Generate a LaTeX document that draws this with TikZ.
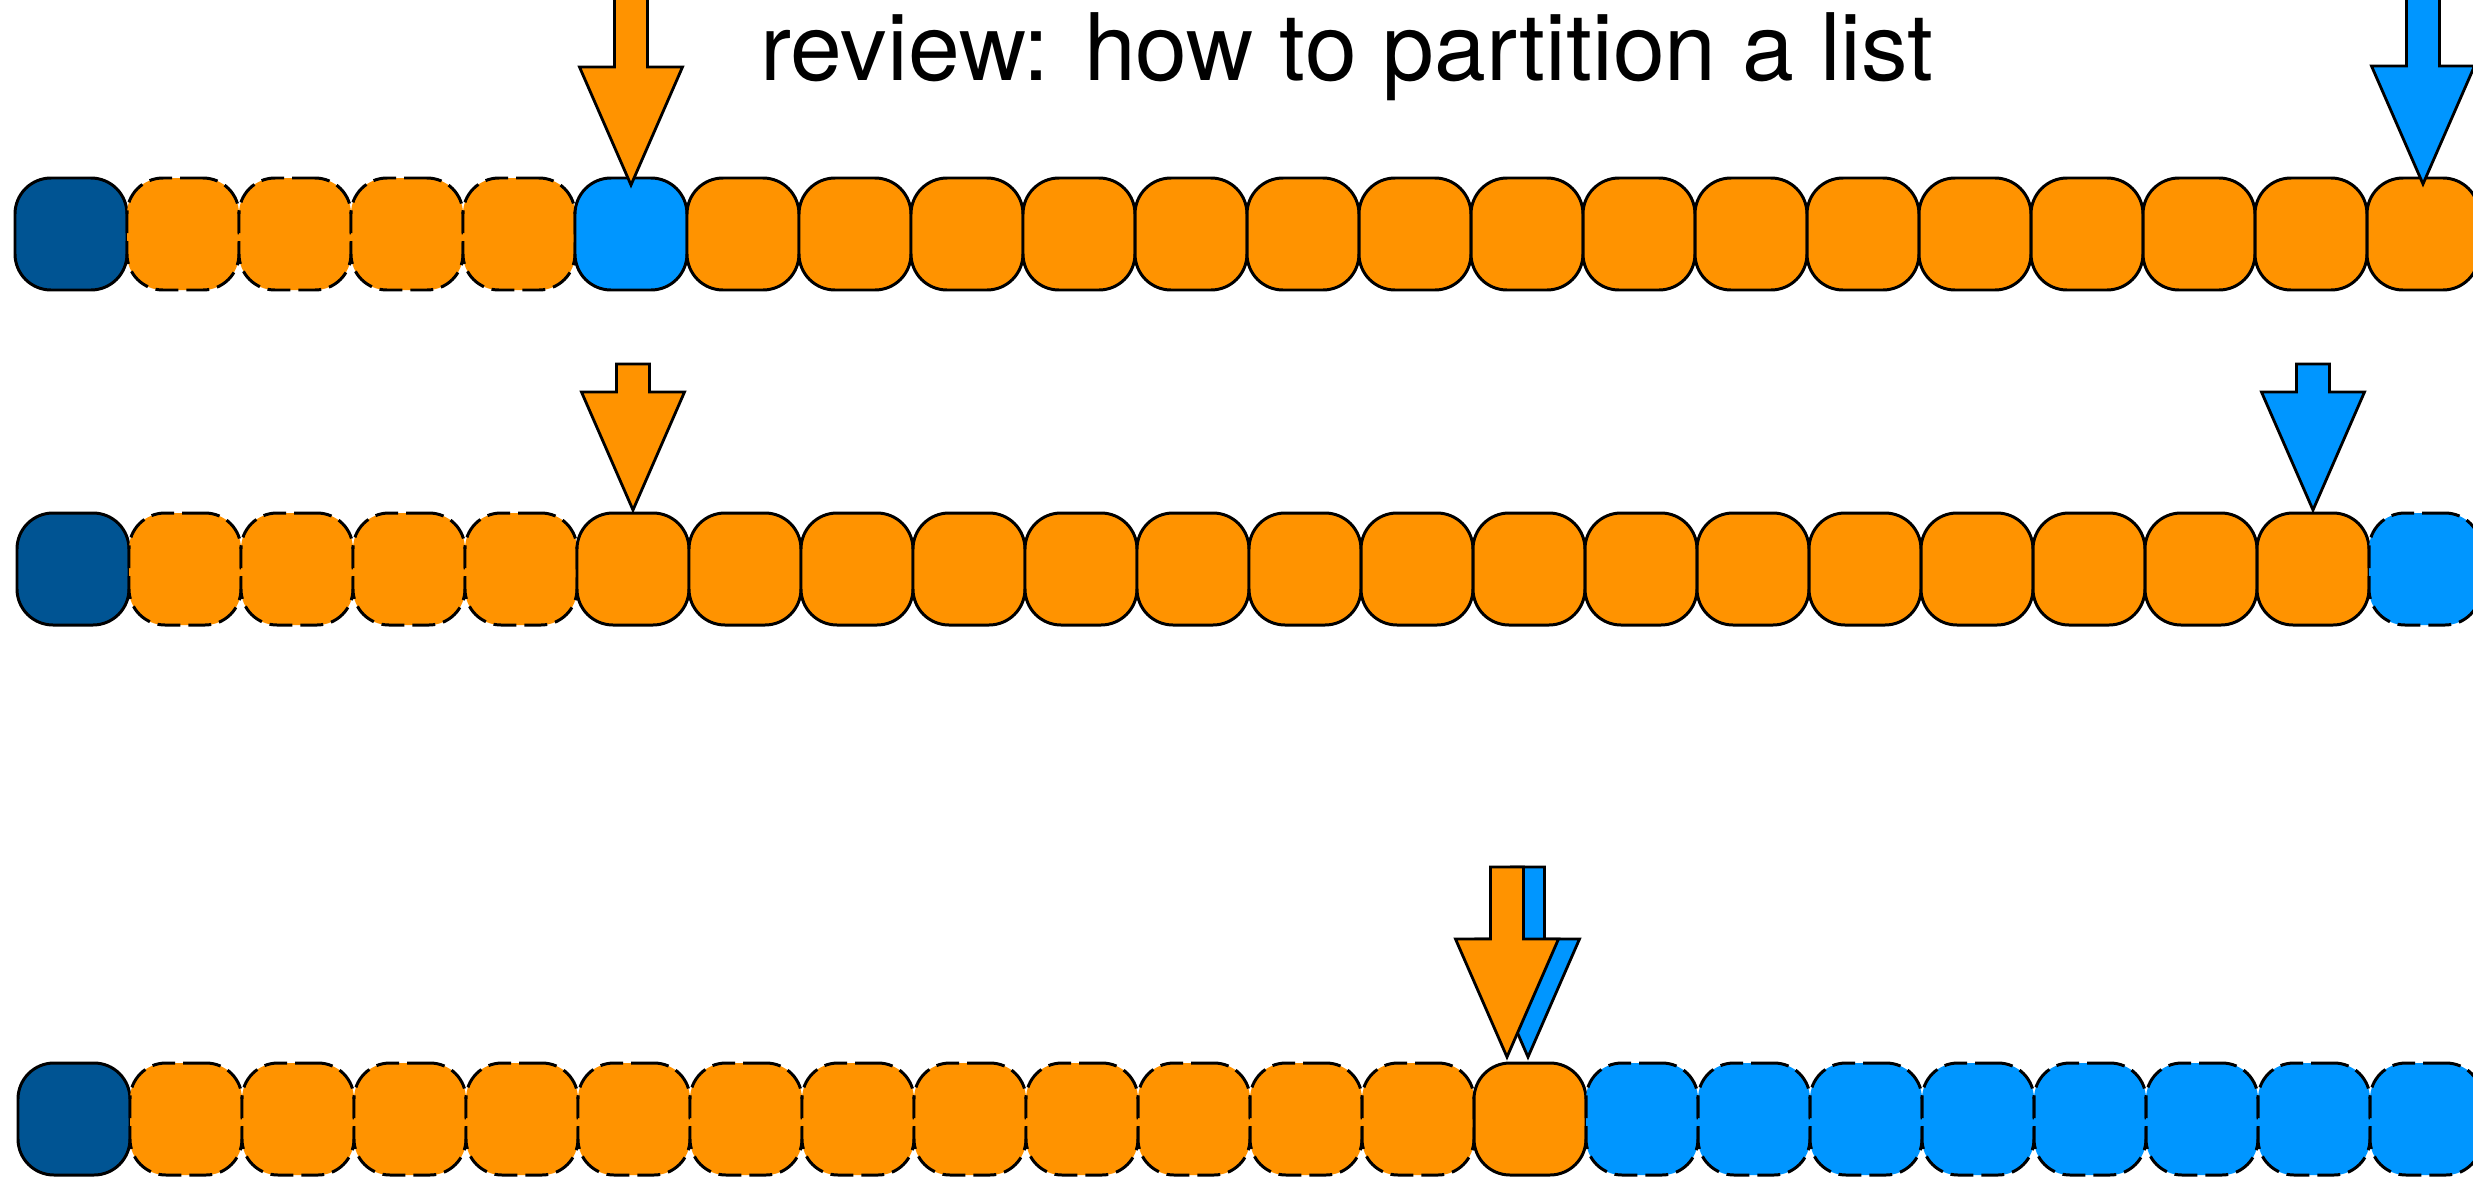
\documentclass[tikz,border=0pt]{standalone}
\usepackage{fontspec}
\setmainfont{TeX Gyre Heros}
\usepackage{tikz}
\usetikzlibrary{calc}
\definecolor{ocean}{HTML}{005493}
\definecolor{tangerine}{HTML}{FF9300}
\definecolor{aqua}{HTML}{0096FF}
\tikzset{
  cell/.style={draw=black, line width=0.85pt, rounded corners=0.36cm,
               minimum width=1.12cm, minimum height=1.12cm,
               inner sep=0pt, outer sep=0pt},
  headcell/.style={cell, fill=ocean},
  lowcell/.style={cell, fill=tangerine, dash pattern=on 6.5pt off 2.3pt},
  midcell/.style={cell, fill=tangerine},
  highcell/.style={cell, fill=aqua, dash pattern=on 6.5pt off 2.3pt},
  pivotcell/.style={cell, fill=aqua},
  ptr/.style={draw=black, line width=0.8pt, line join=miter},
  title/.style={font=\fontsize{26.5}{30}\selectfont, anchor=base}
}
% block arrow: colour, tip, shaft length
\newcommand{\pointer}[3]{%
  \draw[ptr, fill=#1] (#2) -- ++(-0.515,1.18) -- ++(0.35,0) -- ++(0,#3)
    -- ++(0.33,0) -- ++(0,-#3) -- ++(0.35,0) -- cycle;}

\begin{document}
\begin{tikzpicture}
  \useasboundingbox (0,0) rectangle (24.73,11.82);

  \node[title] (head) at (13.47,11.02) {review: how to partition a list};

  % first pass
  \node[headcell] (a0) at (0.71,9.48) {};
  \foreach \i in {1,...,4}
    \node[lowcell] (a\i) at (0.71+1.12*\i,9.48) {};
  \node[pivotcell] (a5) at (0.71+1.12*5,9.48) {};
  \foreach \i in {6,...,21}
    \node[midcell] (a\i) at (0.71+1.12*\i,9.48) {};

  % second pass
  \node[headcell] (b0) at (0.73,6.13) {};
  \foreach \i in {1,...,4}
    \node[lowcell] (b\i) at (0.73+1.12*\i,6.13) {};
  \foreach \i in {5,...,20}
    \node[midcell] (b\i) at (0.73+1.12*\i,6.13) {};
  \node[highcell] (b21) at (0.73+1.12*21,6.13) {};

  % done
  \node[headcell] (c0) at (0.74,0.63) {};
  \foreach \i in {1,...,12}
    \node[lowcell] (c\i) at (0.74+1.12*\i,0.63) {};
  \node[midcell] (c13) at (0.74+1.12*13,0.63) {};
  \foreach \i in {14,...,21}
    \node[highcell] (c\i) at (0.74+1.12*\i,0.63) {};

  % pointers
  \pointer{tangerine}{$(a5.north)+(0,-0.07)$}{1.0}
  \pointer{aqua}{$(a21.north)+(0,-0.06)$}{1.0}
  \pointer{tangerine}{$(b5.north)+(0,0.03)$}{0.28}
  \pointer{aqua}{$(b20.north)+(0,0.03)$}{0.28}
  \pointer{aqua}{$(c13.north)+(-0.02,0.06)$}{0.72}
  \pointer{tangerine}{$(c13.north)+(-0.23,0.06)$}{0.72}
\end{tikzpicture}
\end{document}
